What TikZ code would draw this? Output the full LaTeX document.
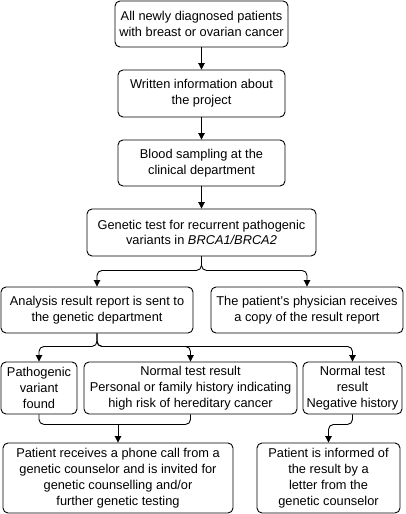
\documentclass[tikz,border=0pt]{standalone}
\usepackage{fontspec}
\setmainfont{Liberation Sans}
\usetikzlibrary{arrows.meta}
\begin{document}
\begin{tikzpicture}[x=1pt,y=-1pt,
  box/.style={draw=black, line width=0.9pt, rounded corners=5pt, align=center,
    inner sep=1pt, font=\fontsize{12.8}{15.8}\selectfont, text=black},
  conn/.style={draw=black, line width=0.9pt, rounded corners=5pt},
  arr/.style={conn, -{Triangle[length=6.5pt,width=6.5pt]}}]
\useasboundingbox (0,0) rectangle (405,514);
\node[box, minimum width=173pt, minimum height=46pt] (b1) at (201.5,24) {All newly diagnosed patients\\with breast or ovarian cancer};
\node[box, minimum width=167pt, minimum height=47pt] (b2) at (201.5,93.5) {Written information about\\the project};
\node[box, minimum width=167pt, minimum height=46pt] (b3) at (201.5,163) {Blood sampling at the\\clinical department};
\node[box, minimum width=229pt, minimum height=47pt] (b4) at (201.5,232.5) {Genetic test for recurrent pathogenic\\variants in \textit{BRCA1/BRCA2}};
\node[box, minimum width=192pt, minimum height=46pt] (b5) at (97,310) {Analysis result report is sent to\\the genetic department};
\node[box, minimum width=192pt, minimum height=46pt] (b6) at (307,310) {The patient’s physician receives\\a copy of the result report};
\node[box, minimum width=76pt, minimum height=52pt] (b7) at (39,388) {Pathogenic\\variant\\found};
\node[box, minimum width=213pt, minimum height=52pt] (b8) at (190.5,388) {Normal test result\\Personal or family history indicating\\high risk of hereditary cancer};
\node[box, minimum width=99pt, minimum height=52pt] (b9) at (352.5,388) {Normal test\\result\\Negative history};
\node[box, minimum width=230pt, minimum height=70pt] (b10) at (118,478) {Patient receives a phone call from a\\genetic counselor and is invited for\\genetic counselling and/or\\further genetic testing};
\node[box, minimum width=143pt, minimum height=70pt] (b11) at (328.5,478) {Patient is informed of\\the result by a\\letter from the\\genetic counselor};
\draw[arr] (b1) -- (b2);
\draw[arr] (b2) -- (b3);
\draw[arr] (b3) -- (b4);
\draw[arr] (b4.south) -- ++(0,14) -| (b5.north);
\draw[arr] (b4.south) -- ++(0,14) -| (b6.north);
\draw[arr] (b5.south) -- ++(0,13) -| (b7.north);
\draw[arr] (b5.south) -- ++(0,13) -| (b8.north);
\draw[arr] (b5.south) -- ++(0,13) -| (b9.north);
\draw[conn] (b7.south) -- ++(0,10) -| (b8.south);
\draw[arr] (b10.north |- b7.south) ++(0,10) coordinate (j1) -- (b10.north);
\draw[arr] (b9.south) -- ++(0,10) -| (b11.north);
\end{tikzpicture}
\end{document}
